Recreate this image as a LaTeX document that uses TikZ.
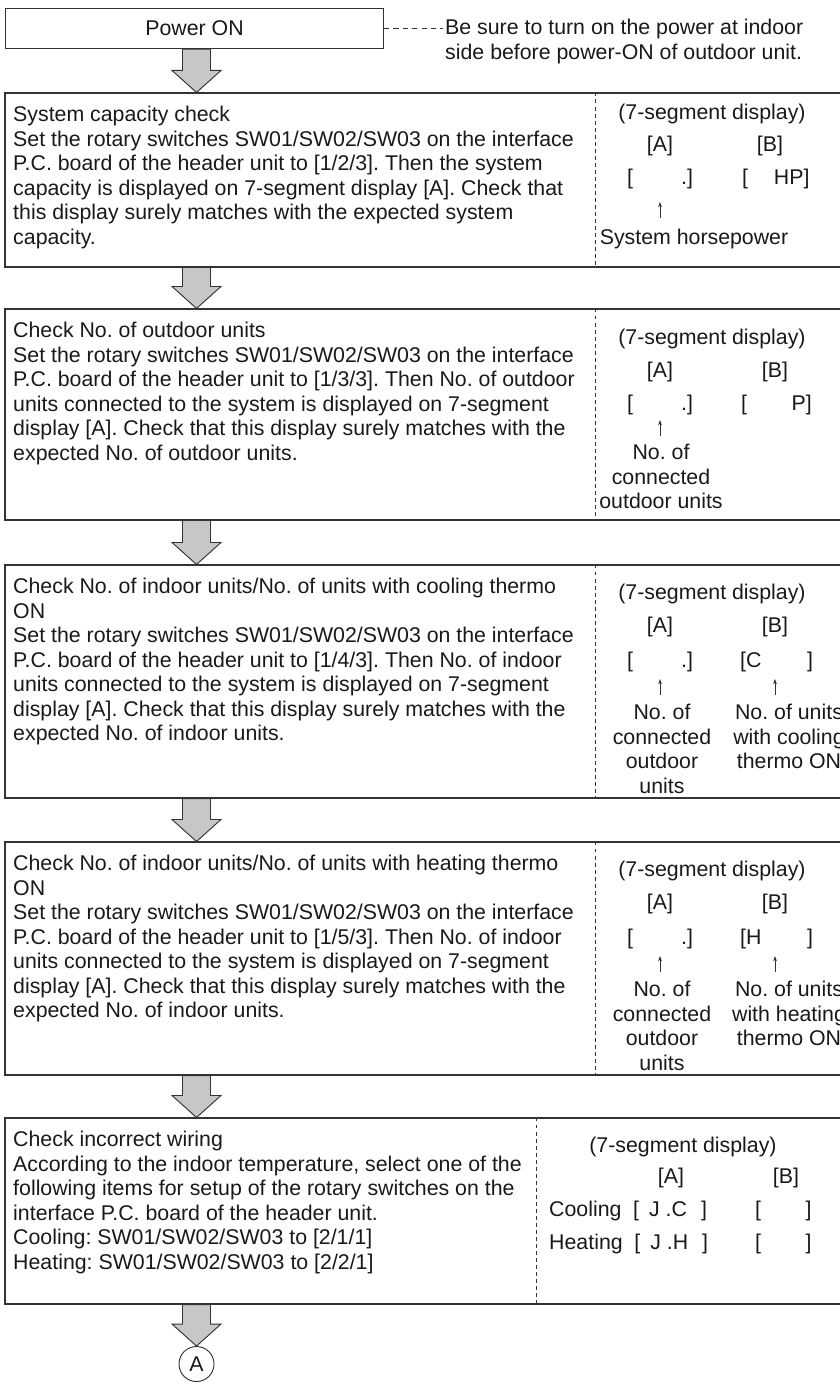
\documentclass[tikz,border=0pt]{standalone}
\usepackage{fontspec}
\setmainfont{Liberation Sans}
\usetikzlibrary{arrows.meta,calc,positioning,fit}
\colorlet{flowLine}{black!80}
\colorlet{flowText}{black!90}
\colorlet{flowFill}{black!22}
\frenchspacing
\newcommand{\lnstrut}{\rule{0pt}{15pt}}
% block arrow between two steps, drawn on the (axis) column
\newcommand{\stepflow}[2]{%
  \draw[flowarrow]
    ($(axis|-#1.south)+(-14,0)$) -- ($(axis|-#2.north)+(-14,-22)$)
    -- ($(axis|-#2.north)+(-24.5,-22)$) -- (axis|-#2.north)
    -- ($(axis|-#2.north)+(24.5,-22)$) -- ($(axis|-#2.north)+(14,-22)$)
    -- ($(axis|-#1.south)+(14,0)$) -- cycle;}
\tikzset{
  stepbox/.style={rectangle, draw=flowLine, line width=0.9pt, inner sep=0pt},
  steptext/.style={anchor=north west, align=left, inner sep=0pt, text=flowText},
  segtext/.style={anchor=north, align=center, inner sep=0pt, text=flowText},
  segrow/.style={anchor=north west, inner sep=0pt, text=flowText},
  segdiv/.style={draw=flowLine, line width=0.7pt, dash pattern=on 3.4pt off 2.6pt},
  notedash/.style={draw=flowLine, line width=0.7pt, dash pattern=on 4.5pt off 3.5pt},
  flowarrow/.style={draw=flowLine, line width=0.8pt, fill=flowFill, line join=miter},
  ptr/.style={-{Stealth[length=4.5pt,width=3.2pt]}, draw=flowLine, line width=0.6pt}
}
\begin{document}
\begin{tikzpicture}[x=0.03cm,y=-0.03cm,font=\fontsize{18.2}{20.9}\selectfont]
  \useasboundingbox (0,0) rectangle (839,1384);
  \coordinate (axis) at (196.5,0);
  \coordinate (divx) at (595,0);
  \coordinate (divw) at (536,0);

  % power on and note
  \node[stepbox, anchor=north west, minimum width=11.34cm, minimum height=1.2cm,
    text=flowText] (pwr) at (5,8) {Power ON};
  \node[steptext] (note) at (445,17)
    {\lnstrut Be sure to turn on the power at indoor\\side before power-ON of outdoor unit.};
  \draw[notedash, shorten >=2pt] (pwr.east) -- (pwr.east -| note.west);

  % system capacity
  \node[stepbox, fit={(5,93) (870,267)}] (cap) {};
  \draw[segdiv] (divx|-cap.north) -- (divx|-cap.south);
  \node[steptext] (capTxt) at (13,104)
    {\lnstrut System capacity check\\
     Set the rotary switches SW01/SW02/SW03 on the interface\\
     P.C. board of the header unit to [1/2/3]. Then the system\\
     capacity is displayed on 7-segment display [A]. Check that\\
     this display surely matches with the expected system\\
     capacity.};
  \node[segtext] (capSeg) at (712,102) {\lnstrut(7-segment display)};
  \node[segtext] (capA) at (660,134) {\lnstrut[A]};
  \node[segtext] (capB) at (770,134) {\lnstrut[B]};
  \node[segrow] (capRowA) at (627,167) {\lnstrut[\hspace{41pt}.]};
  \node[segrow] (capRowB) at (742,167) {\lnstrut[\hspace{22pt}HP]};
  \coordinate (capTail) at (660,218);
  \coordinate (capTip) at (660,202);
  \draw[ptr] (capTail) -- (capTip);
  \node[segtext] (capLbl) at (694,227) {\lnstrut System horsepower};

  % outdoor units
  \node[stepbox, fit={(5,309) (870,520)}] (odu) {};
  \draw[segdiv] (divx|-odu.north) -- (divx|-odu.south);
  \node[steptext] (oduTxt) at (13,320)
    {\lnstrut Check No. of outdoor units\\
     Set the rotary switches SW01/SW02/SW03 on the interface\\
     P.C. board of the header unit to [1/3/3]. Then No. of outdoor\\
     units connected to the system is displayed on 7-segment\\
     display [A]. Check that this display surely matches with the\\
     expected No. of outdoor units.};
  \node[segtext] (oduSeg) at (712,327) {\lnstrut(7-segment display)};
  \node[segtext] (oduA) at (660,360) {\lnstrut[A]};
  \node[segtext] (oduB) at (775,360) {\lnstrut[B]};
  \node[segrow] (oduRowA) at (627,393) {\lnstrut[\hspace{41pt}.]};
  \node[segrow] (oduRowB) at (741,393) {\lnstrut[\hspace{38pt}P]};
  \coordinate (oduTail) at (660,436);
  \coordinate (oduTip) at (660,420);
  \draw[ptr] (oduTail) -- (oduTip);
  \node[segtext] (oduLbl) at (661,442) {\lnstrut No. of\\connected\\outdoor units};

  % indoor units, cooling
  \node[stepbox, fit={(5,565) (870,798)}] (cool) {};
  \draw[segdiv] (divx|-cool.north) -- (divx|-cool.south);
  \node[steptext] (coolTxt) at (13,576)
    {\lnstrut Check No. of indoor units/No. of units with cooling thermo\\
     ON\\
     Set the rotary switches SW01/SW02/SW03 on the interface\\
     P.C. board of the header unit to [1/4/3]. Then No. of indoor\\
     units connected to the system is displayed on 7-segment\\
     display [A]. Check that this display surely matches with the\\
     expected No. of indoor units.};
  \node[segtext] (coolSeg) at (712,582) {\lnstrut(7-segment display)};
  \node[segtext] (coolA) at (660,615) {\lnstrut[A]};
  \node[segtext] (coolB) at (775,615) {\lnstrut[B]};
  \node[segrow] (coolRowA) at (627,650) {\lnstrut[\hspace{41pt}.]};
  \node[segrow] (coolRowB) at (740,650) {\lnstrut[C\hspace{39pt}]};
  \coordinate (coolTailA) at (660,695);
  \coordinate (coolTipA) at (660,679);
  \coordinate (coolTailB) at (775,695);
  \coordinate (coolTipB) at (775,679);
  \draw[ptr] (coolTailA) -- (coolTipA);
  \draw[ptr] (coolTailB) -- (coolTipB);
  \node[segtext] (coolLblA) at (662,702) {\lnstrut No. of\\connected\\outdoor\\units};
  \node[segtext] (coolLblB) at (789,702) {\lnstrut No. of units\\with cooling\\thermo ON};

  % indoor units, heating
  \node[stepbox, fit={(5,842) (870,1075)}] (heat) {};
  \draw[segdiv] (divx|-heat.north) -- (divx|-heat.south);
  \node[steptext] (heatTxt) at (13,853)
    {\lnstrut Check No. of indoor units/No. of units with heating thermo\\
     ON\\
     Set the rotary switches SW01/SW02/SW03 on the interface\\
     P.C. board of the header unit to [1/5/3]. Then No. of indoor\\
     units connected to the system is displayed on 7-segment\\
     display [A]. Check that this display surely matches with the\\
     expected No. of indoor units.};
  \node[segtext] (heatSeg) at (712,859) {\lnstrut(7-segment display)};
  \node[segtext] (heatA) at (660,892) {\lnstrut[A]};
  \node[segtext] (heatB) at (775,892) {\lnstrut[B]};
  \node[segrow] (heatRowA) at (627,927) {\lnstrut[\hspace{41pt}.]};
  \node[segrow] (heatRowB) at (740,927) {\lnstrut[H\hspace{39pt}]};
  \coordinate (heatTailA) at (660,972);
  \coordinate (heatTipA) at (660,956);
  \coordinate (heatTailB) at (775,972);
  \coordinate (heatTipB) at (775,956);
  \draw[ptr] (heatTailA) -- (heatTipA);
  \draw[ptr] (heatTailB) -- (heatTipB);
  \node[segtext] (heatLblA) at (662,979) {\lnstrut No. of\\connected\\outdoor\\units};
  \node[segtext] (heatLblB) at (789,979) {\lnstrut No. of units\\with heating\\thermo ON};

  % incorrect wiring
  \node[stepbox, fit={(5,1118) (870,1304)}] (wire) {};
  \draw[segdiv] (divw|-wire.north) -- (divw|-wire.south);
  \node[steptext] (wireTxt) at (13,1129)
    {\lnstrut Check incorrect wiring\\
     According to the indoor temperature, select one of the\\
     following items for setup of the rotary switches on the\\
     interface P.C. board of the header unit.\\
     Cooling: SW01/SW02/SW03 to [2/1/1]\\
     Heating: SW01/SW02/SW03 to [2/2/1]};
  \node[segtext] (wireSeg) at (683,1135) {\lnstrut(7-segment display)};
  \node[segtext] (wireA) at (671,1166) {\lnstrut[A]};
  \node[segtext] (wireB) at (786,1166) {\lnstrut[B]};
  \node[segrow] (wireCoolA) at (549,1199)
    {\lnstrut Cooling\hspace{10pt}[\hspace{8.5pt}J\hspace{5pt}.C\hspace{12pt}]};
  \node[segrow] (wireCoolB) at (755,1199) {\lnstrut[\hspace{38pt}]};
  \node[segrow] (wireHeatA) at (549,1232)
    {\lnstrut Heating\hspace{10pt}[\hspace{8.5pt}J\hspace{5pt}.H\hspace{12pt}]};
  \node[segrow] (wireHeatB) at (755,1232) {\lnstrut[\hspace{38pt}]};

  % continuation mark
  \node[draw=flowLine, line width=0.8pt, circle, minimum size=1.05cm, inner sep=0pt,
    text=flowText] (ptA) at (196.5,1364) {A};

  \stepflow{pwr}{cap}
  \stepflow{cap}{odu}
  \stepflow{odu}{cool}
  \stepflow{cool}{heat}
  \stepflow{heat}{wire}
  \stepflow{wire}{ptA}
\end{tikzpicture}
\end{document}
